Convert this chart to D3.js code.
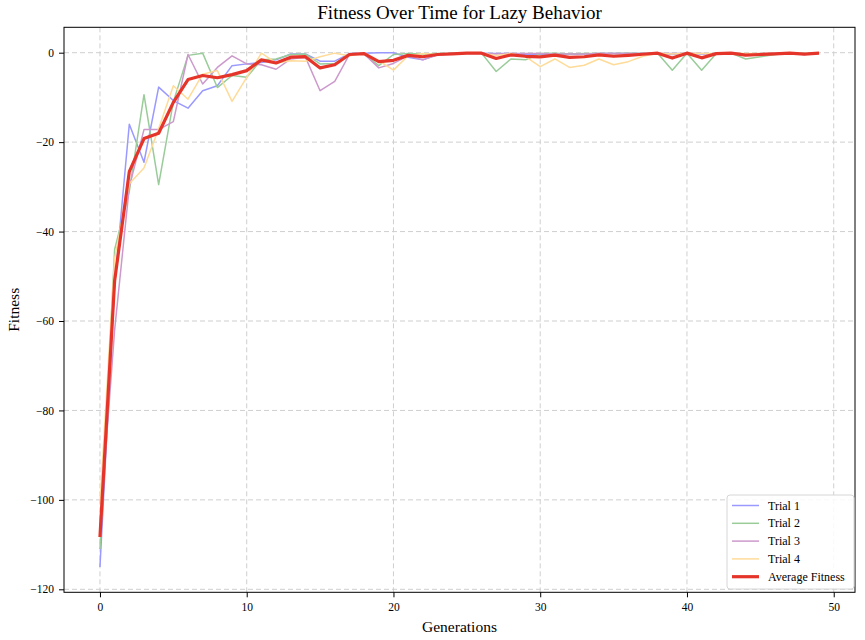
<!DOCTYPE html>
<html>
<head>
<meta charset="utf-8">
<script src="https://cdn.jsdelivr.net/npm/d3@7"></script>
<style>
  body { margin: 0; background: #fff; }
  svg text { font-family: "Liberation Serif", "Times New Roman", serif; fill: #000; }
</style>
</head>
<body>
<div id="chart"></div>
<script>
// generations 0..49
const generations = d3.range(50);

const trial1 = [-115, -52, -16, -24.5, -7.7, -10.7, -12.4, -8.5, -7.4, -2.9,
  -2.5, -2.2, -1.6, -0.3, -0.3, -1.9, -1.9, -0.2, -0.1, 0,
  0, -1.0, -1.6, -0.4, -0.2, -0.1, -0.1, -0.2, -0.2, -0.4,
  -0.3, -0.4, -0.3, -0.3, -0.2, -0.2, -0.2, -0.2, -0.1, -0.4,
  -0.1, -0.3, -0.2, -0.1, -0.3, -0.3, -0.2, -0.1, -0.4, -0.1];

const trial2 = [-111, -44, -31, -9.4, -29.5, -11, -0.6, -0.1, -7.8, -5.1,
  -5.5, -1.6, -1.4, -0.4, -0.3, -2.5, -2.4, -0.3, -0.3, -2.9,
  -0.4, -0.2, -0.3, -0.2, -0.2, -0.1, -0.1, -4.2, -1.4, -1.6,
  -0.2, -0.1, -0.3, -0.2, -0.2, -0.2, -0.1, -0.2, -0.1, -3.9,
  -0.1, -3.9, -0.2, -0.1, -1.4, -0.9, -0.4, -0.1, -0.2, -0.1];

const trial3 = [-106, -62, -30, -17.2, -17.2, -15.4, -0.4, -7, -3.3, -0.7,
  -2.5, -2.7, -3.7, -1.4, -1.0, -8.5, -6.4, -0.4, -0.3, -3.4,
  -2.4, -0.7, -1.6, -0.5, -0.3, -0.1, -0.2, -0.3, -0.2, -0.2,
  -0.2, -0.3, -0.3, -0.3, -0.2, -0.2, -0.2, -0.2, -0.1, -0.2,
  -0.1, -0.2, -0.3, -0.1, -0.3, -0.2, -0.2, -0.1, -0.3, -0.1];

const trial4 = [-101, -46, -29.3, -25.8, -17, -7.4, -10.4, -4.8, -4, -10.9,
  -5.5, -0.1, -2.3, -1.8, -1.9, -0.9, -0.1, -0.7, -0.1, -1.8,
  -3.9, -0.7, -0.2, -0.4, -0.3, -0.1, -0.1, -0.6, -0.2, -0.9,
  -3.1, -1.4, -3.3, -2.8, -1.4, -2.7, -2.0, -0.8, -0.1, -0.3,
  -0.1, -0.2, -0.2, -0.1, -0.2, -0.2, -0.2, -0.1, -0.3, -0.1];

const average = [-108.3, -51, -26.6, -19.2, -18, -11.1, -6, -5.1, -5.6, -4.9,
  -4, -1.6, -2.3, -1.0, -0.9, -3.4, -2.7, -0.4, -0.2, -2,
  -1.7, -0.6, -0.9, -0.4, -0.25, -0.1, -0.1, -1.3, -0.5, -0.8,
  -0.95, -0.55, -1.05, -0.9, -0.5, -0.8, -0.6, -0.35, -0.1, -1.2,
  -0.1, -1.15, -0.2, -0.1, -0.55, -0.4, -0.25, -0.1, -0.3, -0.1];

const xTicks = [0, 10, 20, 30, 40, 50];
const yTicks = [-120, -100, -80, -60, -40, -20, 0];

const series = [
  { name: "Trial 1", values: trial1, color: "#9999ff", width: 1.5 },
  { name: "Trial 2", values: trial2, color: "#99cc99", width: 1.5 },
  { name: "Trial 3", values: trial3, color: "#cc99cc", width: 1.5 },
  { name: "Trial 4", values: trial4, color: "#ffdb99", width: 1.5 },
  { name: "Average Fitness", values: average, color: "#e5352a", width: 3.2 }
];

const W = 865, H = 640;
const margin = { left: 64, right: 10, top: 27.3, bottom: 47.7 };

const svg = d3.select("#chart").append("svg")
  .attr("width", W).attr("height", H);

const x = d3.scaleLinear().domain([-2.45, 51.45])
  .range([margin.left, W - margin.right]);
const y = d3.scaleLinear().domain([-120.67, 5.68])
  .range([H - margin.bottom, margin.top]);

// grid
const grid = svg.append("g").attr("class", "grid");
grid.selectAll(".gx").data(xTicks).enter().append("line")
  .attr("x1", d => x(d)).attr("x2", d => x(d))
  .attr("y1", margin.top).attr("y2", H - margin.bottom)
  .attr("stroke", "#cfcfcf").attr("stroke-dasharray", "5,3").attr("stroke-width", 1);
grid.selectAll(".gy").data(yTicks).enter().append("line")
  .attr("y1", d => y(d)).attr("y2", d => y(d))
  .attr("x1", margin.left).attr("x2", W - margin.right)
  .attr("stroke", "#cfcfcf").attr("stroke-dasharray", "5,3").attr("stroke-width", 1);

// lines
const line = d3.line()
  .x((d, i) => x(generations[i]))
  .y(d => y(d));

svg.append("g").selectAll("path").data(series).enter().append("path")
  .attr("d", d => line(d.values))
  .attr("fill", "none")
  .attr("stroke", d => d.color)
  .attr("stroke-width", d => d.width)
  .attr("stroke-linejoin", "round");

// axes
const fmt = d => d < 0 ? "\u2212" + Math.abs(d) : String(d);

const xAxis = svg.append("g")
  .attr("transform", "translate(0," + (H - margin.bottom) + ")")
  .call(d3.axisBottom(x).tickValues(xTicks).tickFormat(fmt).tickSize(5).tickPadding(6));
const yAxis = svg.append("g")
  .attr("transform", "translate(" + margin.left + ",0)")
  .call(d3.axisLeft(y).tickValues(yTicks).tickFormat(fmt).tickSize(5).tickPadding(5));

[xAxis, yAxis].forEach(a => {
  a.select(".domain").remove();
  a.selectAll("text").attr("font-size", 11.5)
    .style("font-family", "'Liberation Serif', serif");
  a.selectAll("line").attr("stroke", "#000").attr("stroke-width", 1);
});

// frame
svg.append("rect")
  .attr("x", margin.left).attr("y", margin.top)
  .attr("width", W - margin.left - margin.right)
  .attr("height", H - margin.top - margin.bottom)
  .attr("fill", "none").attr("stroke", "#000").attr("stroke-width", 1);

// titles
svg.append("text").attr("x", (margin.left + W - margin.right) / 2).attr("y", 19)
  .attr("text-anchor", "middle").attr("font-size", 19)
  .text("Fitness Over Time for Lazy Behavior");
svg.append("text").attr("x", (margin.left + W - margin.right) / 2).attr("y", 632)
  .attr("text-anchor", "middle").attr("font-size", 15.5)
  .text("Generations");
svg.append("text")
  .attr("transform", "translate(19," + ((margin.top + H - margin.bottom) / 2) + ") rotate(-90)")
  .attr("text-anchor", "middle").attr("font-size", 15.5)
  .text("Fitness");

// legend
const lg = svg.append("g").attr("transform", "translate(727,495)");
lg.append("rect").attr("width", 127).attr("height", 94)
  .attr("rx", 3).attr("fill", "#fff").attr("fill-opacity", 0.85)
  .attr("stroke", "#d6d6d6").attr("stroke-width", 1);
const items = lg.selectAll(".item").data(series).enter().append("g")
  .attr("transform", (d, i) => "translate(0," + (10.5 + i * 17.8) + ")");
items.append("line").attr("x1", 5).attr("x2", 32)
  .attr("stroke", d => d.color).attr("stroke-width", d => d.width);
items.append("text").attr("x", 41).attr("y", 4)
  .attr("font-size", 12).text(d => d.name);
</script>
</body>
</html>
